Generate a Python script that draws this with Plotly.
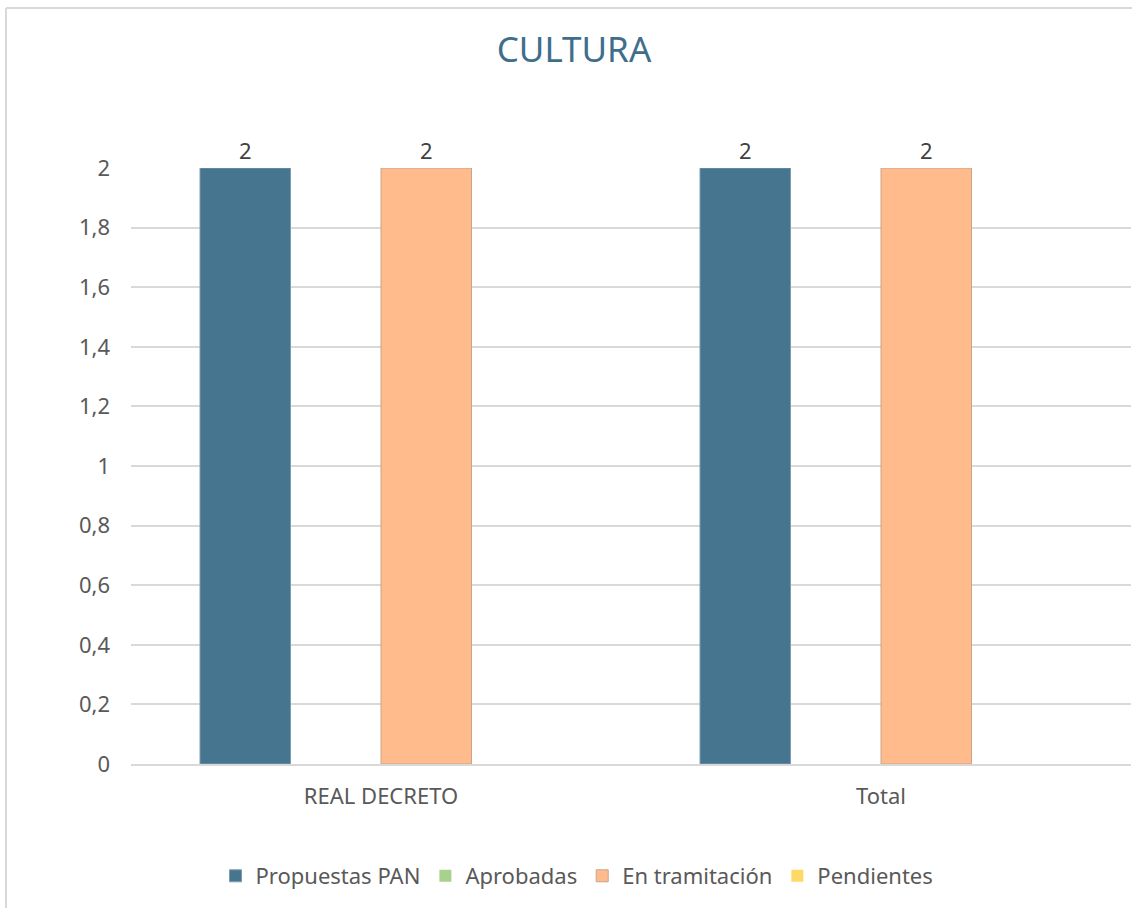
import plotly.graph_objects as go

categories = ["REAL DECRETO", "Total"]
series_names = ["Propuestas PAN", "Aprobadas", "En tramitación", "Pendientes"]
propuestas_pan = [2, 2]
aprobadas = [0, 0]
en_tramitacion = [2, 2]
pendientes = [0, 0]
y_ticks = [0, 0.2, 0.4, 0.6, 0.8, 1, 1.2, 1.4, 1.6, 1.8, 2]

colors = ["#46758F", "#A9D18E", "#FFBB8C", "#FFD966"]
edge_colors = ["#7F9CB0", "#A9D18E", "#C8A48C", "#FFD966"]
values = [propuestas_pan, aprobadas, en_tramitacion, pendientes]

FONT = "Noto Sans"
W, H = 1132, 908
ML, MR, MT, MB = 131, 1, 168, 144

fig = go.Figure()
for name, vals, c, ec in zip(series_names, values, colors, edge_colors):
    has_height = any(v != 0 for v in vals)
    fig.add_trace(go.Bar(
        name=name, x=categories, y=vals,
        marker=dict(color=c, line=dict(color=ec, width=1 if has_height else 0)),
        text=[str(v) if v else "" for v in vals], textposition="outside",
        textfont=dict(family=FONT, size=22, color="#404040"), cliponaxis=False,
    ))

pw = W - ML - MR
ph = H - MT - MB
fig.update_layout(
    width=W, height=H,
    margin=dict(l=ML, r=MR, t=MT, b=MB, pad=0),
    paper_bgcolor="white", plot_bgcolor="white",
    barmode="group", bargap=0.276, bargroupgap=0,
    separators=",.",
    title=dict(text="CULTURA", x=574 / W, xanchor="center", y=1 - 50 / H, yanchor="middle",
               font=dict(family=FONT, size=35, color="#3E6E8C")),
    showlegend=True,
    legend=dict(orientation="h", x=(577 - ML) / pw, xanchor="center", y=((H - MB) - 876) / ph,
                yanchor="middle", font=dict(family=FONT, size=22, color="#595959"),
                itemwidth=30, traceorder="normal"),
    yaxis=dict(range=[0, 2], tickvals=y_ticks, showgrid=True, gridcolor="#D9D9D9", gridwidth=2,
               zeroline=False, showline=False, ticks="", ticklabelstandoff=20,
               tickfont=dict(family=FONT, size=22, color="#595959")),
    xaxis=dict(showline=True, linecolor="#D9D9D9", linewidth=2, ticks="", showgrid=False,
               tickfont=dict(family=FONT, size=22, color="#595959"), ticklabelstandoff=12),
)
# chart border (left and top edges)
fig.add_shape(type="line", xref="paper", yref="paper",
              x0=(6 - ML) / pw, x1=(6 - ML) / pw, y0=(H - MB - H) / ph, y1=(H - MB - 8) / ph,
              line=dict(color="#D9D9D9", width=2))
fig.add_shape(type="line", xref="paper", yref="paper",
              x0=(6 - ML) / pw, x1=(W + 5 - ML) / pw, y0=(H - MB - 8) / ph, y1=(H - MB - 8) / ph,
              line=dict(color="#D9D9D9", width=2))

fig.write_html("out.html", config={"displayModeBar": False},
               post_script="document.body.style.margin='0';document.body.style.overflow='hidden';")
